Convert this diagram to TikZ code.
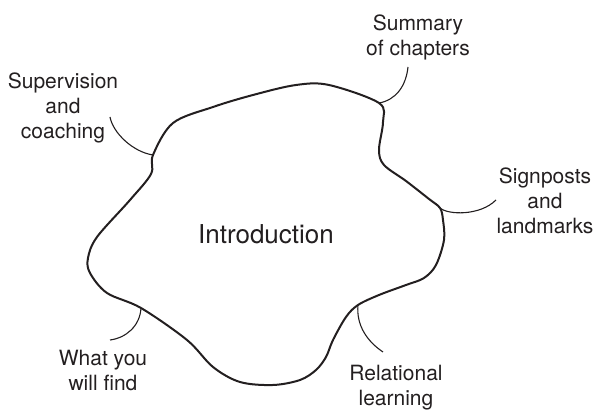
\documentclass[tikz,border=0pt]{standalone}
\usepackage{fontspec}
\setmainfont{TeX Gyre Heros}
\usepackage{xcolor}
\definecolor{inkgray}{HTML}{231F20}
\usetikzlibrary{positioning}

\begin{document}
\begin{tikzpicture}[x=0.5pt, y=-0.5pt,
  lbl/.style={align=center, font=\fontsize{10.5}{12.5}\selectfont, text=inkgray},
  blob/.style={line width=1pt, draw=inkgray, line join=round},
  conn/.style={line width=0.55pt, draw=inkgray}]
\useasboundingbox (0,0) rectangle (596,410);

% Junction points on the outline
\coordinate (jsup) at (153,155);
\coordinate (jsum) at (379,103);
\coordinate (jsign) at (440,208);
\coordinate (jrel) at (358,305);
\coordinate (jwhat) at (141,308);

% The outline of the introduction
\draw[blob] plot[smooth cycle, tension=0.55] coordinates {
  (153,155) (173,123) (213,107) (253,95) (296,85) (329,85) (379,103)
  (383,122) (379,150) (384,165) (406,181) (429,199) (440,208)
  (443,220) (444,240) (436,265) (424,278) (406,285) (379,295) (358,305)
  (346,317) (333,340) (326,357) (316,370) (300,380) (273,385) (240,382)
  (213,367) (187,340) (141,308) (107,293) (90,273) (88,258) (97,237)
  (130,200) (151,174)};

% Labels
\node[lbl, font=\fontsize{13}{15}\selectfont] (intro) at (266,234) {Introduction};
\node[lbl] (sup) at (63,108) {Supervision\\and\\coaching};
\node[lbl] (sum) at (418,37) {Summary\\of chapters};
\node[lbl] (sign) at (545,201) {Signposts\\and\\landmarks};
\node[lbl] (rel) at (396,388) {Relational\\learning};
\node[lbl] (what) at (103,371) {What you\\will find};

% Free ends of the connectors
\coordinate (esup) at (110,117);
\coordinate (esum) at (408,67);
\coordinate (esign) at (496,200);
\coordinate (erel) at (383,352);
\coordinate (ewhat) at (110,340);

% Connectors
\draw[conn] (jsup) .. controls (133,152) and (113,133) .. (esup);
\draw[conn] (jsum) .. controls (396,100) and (406,86) .. (esum);
\draw[conn] (jsign) .. controls (448,215) and (480,216) .. (esign);
\draw[conn] (jrel) .. controls (356,326) and (368,342) .. (erel);
\draw[conn] (jwhat) .. controls (140,326) and (126,338) .. (ewhat);
\end{tikzpicture}
\end{document}
